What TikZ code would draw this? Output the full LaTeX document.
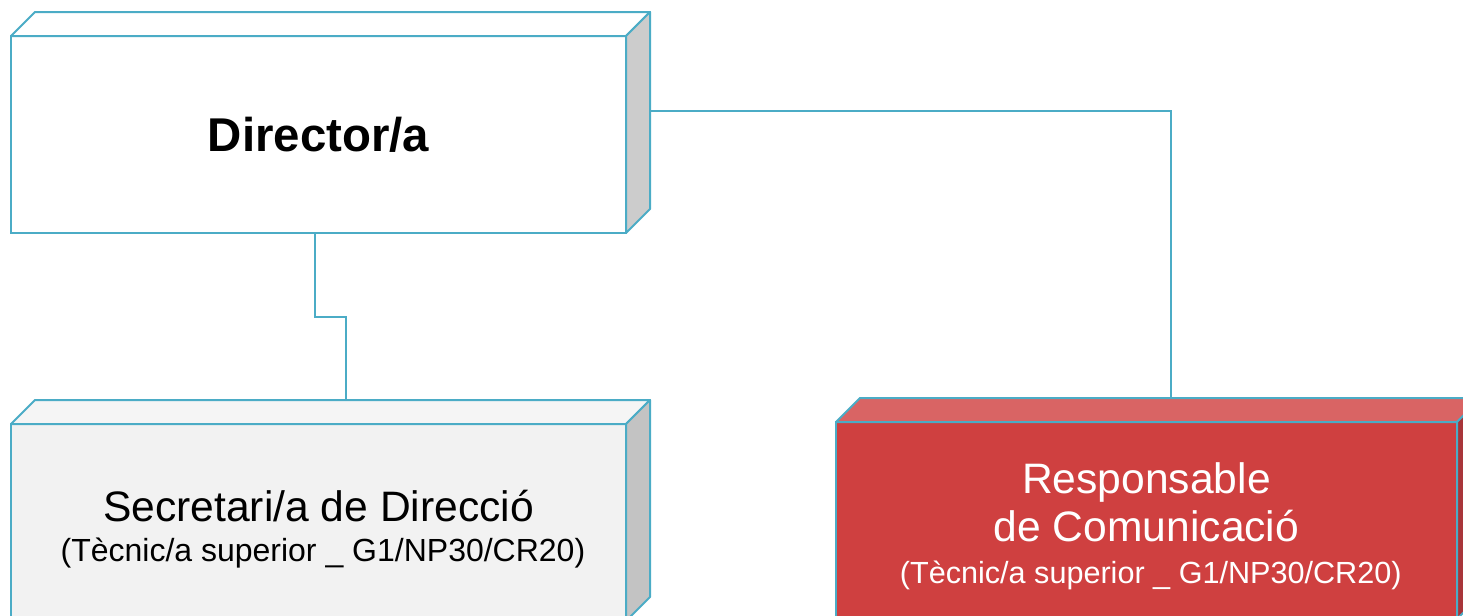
\documentclass[tikz,border=0pt]{standalone}
\usepackage{fontspec}
\setmainfont{Liberation Sans}
\usetikzlibrary{calc}

\definecolor{boxedge}{HTML}{4BACC6}
\definecolor{greyfront}{HTML}{F2F2F2}
\definecolor{greytop}{HTML}{F5F5F5}
\definecolor{greyside}{HTML}{C3C3C3}
\definecolor{whiteside}{HTML}{CCCCCC}
\definecolor{redfront}{HTML}{CF4040}
\definecolor{redtop}{HTML}{D96464}
\definecolor{redside}{HTML}{A8353A}

\begin{document}
\begin{tikzpicture}[x=0.5pt, y=-0.5pt]

\useasboundingbox (0, 0) rectangle (1463, 616) ;
\clip (0, 0) rectangle (1463, 616) ;

\def\boxdepth{24}

\tikzstyle{box front} =
	[draw=boxedge, line width=1pt, outer sep=0pt, inner sep=0pt, minimum height=98.5pt, align=center]
\tikzstyle{box face} = [draw=boxedge, line width=1pt, line join=round]
\tikzstyle{link} = [draw=boxedge, line width=1pt]

\newcommand\gradesize[1]{\fontsize{#1}{22}\selectfont}
\newcommand\topstrut[1]{\rule{0pt}{#1}}

% top and side faces of a box

\newcommand\boxfaces[3]{
	\draw [box face, fill=#2] (#1.north west) -- ++(\boxdepth, -\boxdepth)
		-- ([shift={(\boxdepth, -\boxdepth)}]#1.north east) -- (#1.north east) -- cycle ;
	\draw [box face, fill=#3] (#1.north east) -- ++(\boxdepth, -\boxdepth)
		-- ([shift={(\boxdepth, -\boxdepth)}]#1.south east) -- (#1.south east) -- cycle ;
	\coordinate (#1 top) at ($(#1.north) + (\boxdepth, -\boxdepth)$) ;
	\coordinate (#1 side) at ($(#1.east) + (\boxdepth, -\boxdepth)$) ;
}

% boxes

\node [box front, fill=white, minimum width=307.5pt, font=\fontsize{23.7}{28}\selectfont\bfseries]
	(dir) at (318.5, 134.5) {Director/a} ;
\boxfaces{dir}{white}{whiteside}

\node [box front, fill=greyfront, minimum width=307.5pt, font=\fontsize{21.3}{22}\selectfont]
	(sec) at (318.5, 522.5) {\topstrut{22pt}Secretari/a de Direcció\\[-2pt]
	\gradesize{16} (Tècnic/a superior \_ G1/NP30/CR20)} ;
\boxfaces{sec}{greytop}{greyside}

\node [box front, fill=redfront, text=white, minimum width=310.5pt, font=\fontsize{21.3}{24}\selectfont]
	(resp) at (1146.5, 520.5) {\topstrut{20.75pt}Responsable\\
	de Comunicació\\[-3pt]
	\gradesize{15.3} (Tècnic/a superior \_ G1/NP30/CR20)} ;
\boxfaces{resp}{redtop}{redside}

% links

\draw [link] ([xshift=-1.75pt]dir.south) -- ++(0, 84) -| ([xshift=1.75pt]sec top) ;
\draw [link] (dir side) -| (resp top) ;

\end{tikzpicture}
\end{document}
